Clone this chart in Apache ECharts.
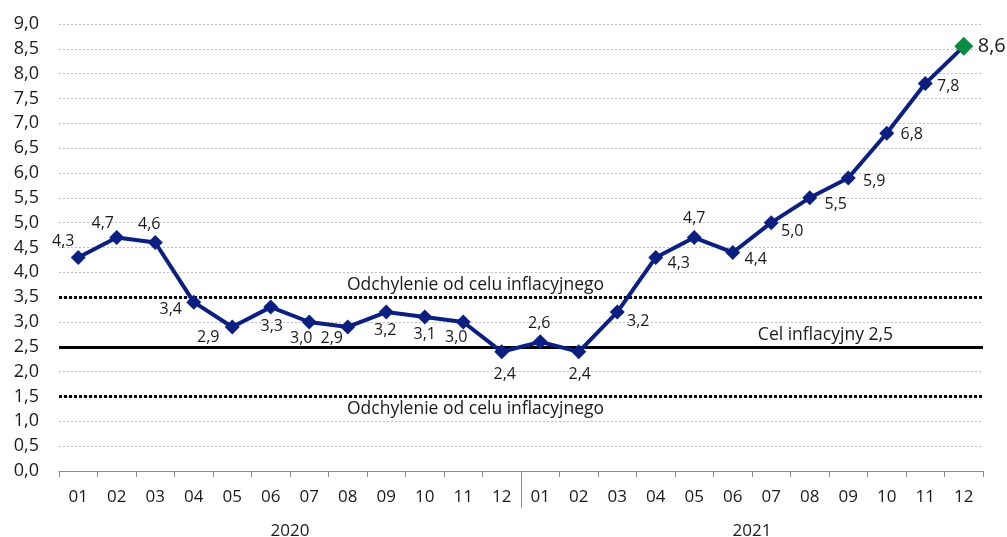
<!DOCTYPE html>
<html>
<head>
<meta charset="utf-8">
<script src="https://cdn.jsdelivr.net/npm/echarts@6/dist/echarts.min.js"></script>
<style>
  html, body { margin: 0; padding: 0; background: #fff; }
  #chart { width: 1007px; height: 537px; }
</style>
</head>
<body>
<div id="chart"></div>
<script>
// ---- data ----
const months = ['01','02','03','04','05','06','07','08','09','10','11','12',
                '01','02','03','04','05','06','07','08','09','10','11','12'];
const years = ['2020', '2021'];
const inflation = [4.3, 4.7, 4.6, 3.4, 2.9, 3.3, 3.0, 2.9, 3.2, 3.1, 3.0, 2.4,
                   2.6, 2.4, 3.2, 4.3, 4.7, 4.4, 5.0, 5.5, 5.9, 6.8, 7.8, 8.55];
const targetValue = 2.5;
const toleranceLow = 1.5;
const toleranceHigh = 3.5;
const targetText = 'Cel inflacyjny 2,5';
const toleranceText = 'Odchylenie od celu inflacyjnego';
const yMin = 0, yMax = 9, yStep = 0.5;

// ---- label placement (styling, offsets from the point centre) ----
const labelOffsets = [
  [-15,-16], [-14,-14], [-6,-18], [-23,7], [-24,10], [1,19], [-8,16], [-16,11], [-1,18], [0,17], [-7,15], [3,23],
  [-1,-18], [1,23], [21,9], [23,6], [0,-19], [23,7], [21,9], [26,7], [26,3], [25,1], [23,3], [28,0]
];

const navy = '#0a1f80';
const green = '#0b8a43';
const fmt = v => Number(v).toFixed(1).replace('.', ',');
const font = '"Open Sans", "Noto Sans", sans-serif';

const seriesData = inflation.map((v, i) => {
  const last = i === inflation.length - 1;
  const item = {
    value: v,
    label: { show: true, position: 'inside', offset: labelOffsets[i] }
  };
  if (last) {
    item.symbolSize = 19;
    item.itemStyle = { color: green };
    item.label.fontSize = 20;
  }
  return item;
});

const chart = echarts.init(document.getElementById('chart'), null, { renderer: 'canvas' });
chart.setOption({
  animation: false,
  backgroundColor: '#fff',
  textStyle: { fontFamily: font },
  grid: [
    { left: 59, right: 24, top: 24, bottom: 66, outerBoundsMode: 'none', containLabel: false },
    { left: 59, right: 24, top: 471, height: 37, outerBoundsMode: 'none', containLabel: false }
  ],
  xAxis: [
    {
      type: 'category', gridIndex: 0, data: months, boundaryGap: true,
      axisLine: { show: true, lineStyle: { color: '#8a8a8a', width: 1 } },
      axisTick: { show: true, length: 6, lineStyle: { color: '#8a8a8a' } },
      axisLabel: { fontSize: 17, color: '#1a1a1a', margin: 18, fontFamily: font },
      splitLine: { show: false }
    },
    {
      type: 'category', gridIndex: 1, data: years, boundaryGap: true,
      axisLine: { show: false }, axisTick: { show: false },
      axisLabel: { fontSize: 17, color: '#1a1a1a', margin: 15, fontFamily: font },
      splitLine: { show: true, showMinLine: false, showMaxLine: false, lineStyle: { color: '#8a8a8a', width: 1 } }
    }
  ],
  yAxis: [
    {
      type: 'value', gridIndex: 0, min: yMin, max: yMax, interval: yStep,
      axisLine: { show: false }, axisTick: { show: false },
      axisLabel: { fontSize: 18, color: '#1a1a1a', margin: 20, formatter: v => fmt(v), fontFamily: font },
      splitLine: { show: true, lineStyle: { color: '#bdbdbd', width: 1, type: [2, 2] } }
    },
    { type: 'value', gridIndex: 1, show: false, min: 0, max: 1 }
  ],
  series: [
    {
      type: 'line', xAxisIndex: 0, yAxisIndex: 0, data: [], z: 1, silent: true,
      markLine: {
        silent: true, symbol: 'none', animation: false, z: 1,
        data: [
          {
            yAxis: toleranceHigh,
            lineStyle: { color: '#000', width: 3, type: [3, 2] },
            label: { show: true, formatter: toleranceText, position: 'insideStartTop', distance: [288, 3],
                     fontSize: 17.5, color: '#1a1a1a', fontFamily: font }
          },
          {
            yAxis: targetValue,
            lineStyle: { color: '#000', width: 3, type: 'solid' },
            label: { show: true, formatter: targetText, position: 'insideEndTop', distance: [90, 3],
                     fontSize: 17.5, color: '#1a1a1a', fontFamily: font }
          },
          {
            yAxis: toleranceLow,
            lineStyle: { color: '#000', width: 3, type: [3, 2] },
            label: { show: true, formatter: toleranceText, position: 'insideStartBottom', distance: [288, 4],
                     fontSize: 17.5, color: '#1a1a1a', fontFamily: font }
          }
        ]
      }
    },
    {
      type: 'line', xAxisIndex: 0, yAxisIndex: 0, z: 3,
      data: seriesData,
      symbol: 'diamond', symbolSize: 15, showAllSymbol: true,
      lineStyle: { color: navy, width: 4 },
      itemStyle: { color: navy },
      label: { show: true, fontSize: 16, color: '#1a1a1a', fontFamily: font,
               formatter: p => fmt(p.value) },
      emphasis: { disabled: true }
    }
  ]
});
</script>
</body>
</html>
